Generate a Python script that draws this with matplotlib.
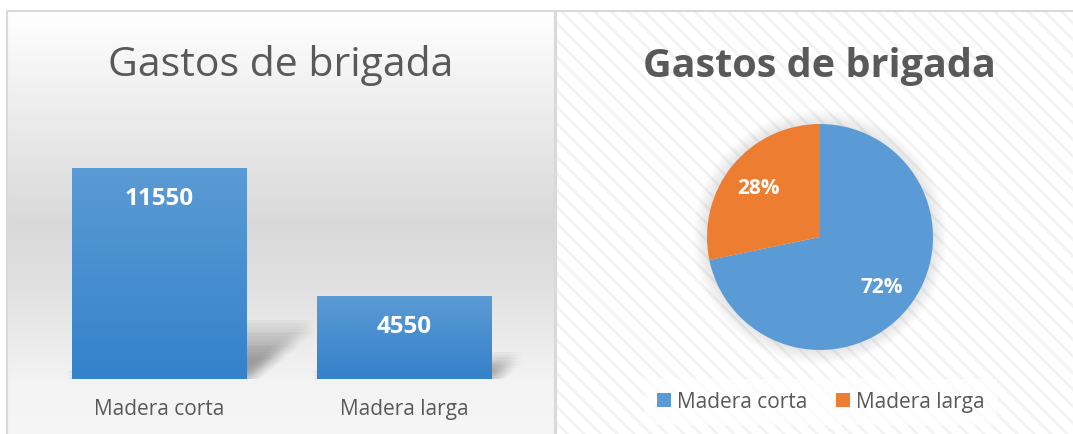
import numpy as np
import matplotlib.pyplot as plt
from matplotlib.colors import LinearSegmentedColormap
from matplotlib.patches import Rectangle, Polygon, Circle, Patch
from matplotlib.transforms import offset_copy

categories = ['Madera corta', 'Madera larga']
values = [11550, 4550]
title = 'Gastos de brigada'

BLUE = '#5B9BD5'
BLUE_DARK = '#3482CA'
ORANGE = '#ED7D31'
TEXT = '#595959'
BORDER = '#D9D9D9'

W, H = 1073, 435
plt.rcParams['font.family'] = ['Open Sans', 'DejaVu Sans']
plt.rcParams['hatch.linewidth'] = 2.0


def px(x0, y0, x1, y1):
    # pixel box (top-left origin) -> figure rect
    return [x0 / W, 1 - y1 / H, (x1 - x0) / W, (y1 - y0) / H]


fig = plt.figure(figsize=(W / 100, H / 100), dpi=100)

# ---- left panel background (vertical gradient)
bg = fig.add_axes(px(7, 12, 555, 440))
bg.set_axis_off()
grad = LinearSegmentedColormap.from_list('bg', [
    (0.0, '#FFFFFF'), (0.2, '#EFEFEF'), (0.5, '#D9D9D9'),
    (0.65, '#E1E1E1'), (0.86, '#F3F3F3'), (1.0, '#F6F6F6')])
bg.imshow(np.linspace(0, 1, 256).reshape(-1, 1), cmap=grad, aspect='auto',
          extent=[0, 1, 0, 1])
bg.add_patch(Rectangle((0, 0), 1, 1, transform=bg.transAxes, fill=False,
                       edgecolor=BORDER, lw=1.5, clip_on=False))

fig.text(281 / W, 1 - 66 / H, title, ha='center', va='center', fontsize=29.5,
         color=TEXT)

# ---- bar chart
ax = fig.add_axes(px(37, 380 - 255.8, 527, 380))
ax.set_axis_off()
x = np.arange(len(categories))
bw = 0.714
bars = ax.bar(x, values, width=bw, color=BLUE, zorder=3)

# soft cast shadows to the upper right of each bar
jitter = np.linspace(-6, 6, 5)
for xi, v in zip(x, values):
    dx = 0.26 * v / 11550
    dy = 0.25 * v
    xl, xr = xi - bw / 2, xi + bw / 2
    for t in [1.0, 0.75, 0.5]:
        verts = [(xl, 0), (xr, 0), (xr + dx * t, dy * t), (xl + dx * t, dy * t)]
        for ox in jitter:
            for oy in jitter:
                tr = offset_copy(ax.transData, fig=fig, x=ox, y=oy,
                                 units='dots')
                ax.add_patch(Polygon(verts, closed=True, transform=tr,
                                     facecolor='#606060', edgecolor='none',
                                     alpha=0.009, zorder=1))

bar_cmap = LinearSegmentedColormap.from_list('bar', [BLUE_DARK, BLUE])
for b in bars:
    x0, y0 = b.get_x(), b.get_y()
    im = ax.imshow(np.linspace(0, 1, 256).reshape(-1, 1), cmap=bar_cmap,
                   origin='lower', aspect='auto', zorder=4,
                   extent=[x0, x0 + b.get_width(), y0, y0 + b.get_height()])
    im.set_clip_path(b)

ax.set_xlim(-0.5, 1.5)
ax.set_ylim(0, 14000)

for xi, v, cat in zip(x, values, categories):
    ax.annotate(str(v), xy=(xi, v), xytext=(0, -30 * 0.72),
                textcoords='offset points', ha='center', va='center',
                color='white', fontsize=17.5, fontweight='bold', zorder=5)
    ax.annotate(cat, xy=(xi, 0), xytext=(0, -30 * 0.72),
                textcoords='offset points', ha='center', va='center',
                color=TEXT, fontsize=15, annotation_clip=False)

# ---- right panel background (faint diagonal stripes)
bg2 = fig.add_axes(px(556, 12, 1085, 440))
bg2.set_axis_off()
bg2.add_patch(Rectangle((0, 0), 1, 1, transform=bg2.transAxes,
                        facecolor='white', hatch='\\\\',
                        edgecolor='#F3F3F3', lw=0))
bg2.add_patch(Rectangle((0, 0), 1, 1, transform=bg2.transAxes, fill=False,
                        edgecolor=BORDER, lw=1.5, clip_on=False))

fig.text(819 / W, 1 - 66 / H, title, ha='center', va='center', fontsize=28.5,
         color=TEXT, fontweight='bold')

# ---- pie chart
pax = fig.add_axes(px(707, 125, 933, 351))
pax.set_axis_off()
for r in np.linspace(1.12, 1.0, 7):
    pax.add_patch(Circle((0, 0), r, facecolor='#808080', edgecolor='none',
                         alpha=0.03, clip_on=False, zorder=0))
wedges, _, autotexts = pax.pie(
    values, colors=[BLUE, ORANGE], startangle=90, counterclock=False,
    radius=1, autopct=lambda p: f'{p:.0f}%', pctdistance=0.7,
    wedgeprops=dict(linewidth=0),
    textprops=dict(color='white', fontsize=15, fontweight='bold'))
for w in wedges:
    w.set_zorder(2)
for t in autotexts:
    t.set_zorder(3)
pax.set_xlim(-1, 1)
pax.set_ylim(-1, 1)

handles = [Patch(facecolor=BLUE), Patch(facecolor=ORANGE)]
leg = fig.legend(handles, categories, loc='center',
                 bbox_to_anchor=(821 / W, 1 - 403 / H), ncol=2, fontsize=15,
                 frameon=True, facecolor='white', edgecolor='none',
                 framealpha=0.75, fancybox=False, handlelength=0.65,
                 handleheight=0.65, handletextpad=0.3, columnspacing=1.4,
                 borderpad=0.6, labelcolor=TEXT)

fig.savefig('out.png', dpi=100)
